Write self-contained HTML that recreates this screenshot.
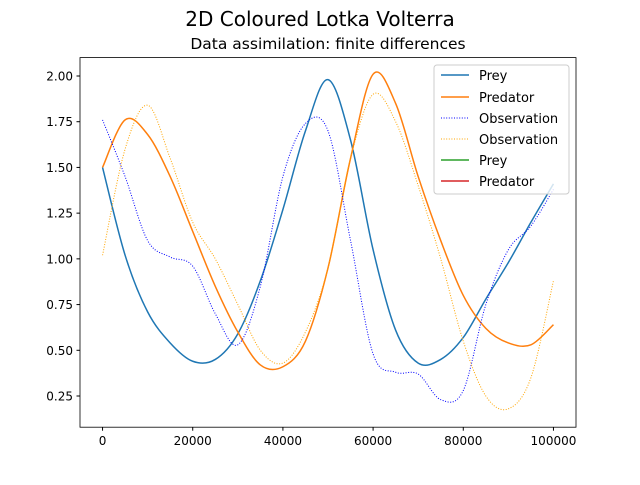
<!DOCTYPE html>
<html><head><meta charset="utf-8"><style>
body{margin:0;background:#fff;font-family:"Liberation Sans","DejaVu Sans",sans-serif}
</style></head><body>
<svg id="c" width="640" height="480" xmlns="http://www.w3.org/2000/svg" font-family="DejaVu Sans, Liberation Sans, sans-serif">
<rect width="640" height="480" fill="#fff"/>
<text x="320" y="26" text-anchor="middle" font-size="20">2D Coloured Lotka Volterra</text>
<text x="328" y="49" text-anchor="middle" font-size="15.5">Data assimilation: finite differences</text>
<g id="marks"></g>
<rect x="80" y="57.6" width="496" height="369.6" fill="none" stroke="#000" stroke-width="0.8"/>
<g id="axes" font-size="12"></g>
<g>
<rect x="434" y="65" width="135" height="129" rx="3" fill="#fff" fill-opacity="0.8" stroke="#ccc"/>
<g font-size="13">
<line x1="441" y1="75" x2="469" y2="75" stroke="#1f77b4" stroke-width="1.5"/><text x="479" y="80">Prey</text>
<line x1="441" y1="97" x2="469" y2="97" stroke="#ff7f0e" stroke-width="1.5"/><text x="479" y="102">Predator</text>
<line x1="441" y1="118" x2="469" y2="118" stroke="#0000ff" stroke-width="1" stroke-dasharray="1,1.6"/><text x="479" y="123">Observation</text>
<line x1="441" y1="139" x2="469" y2="139" stroke="#ffa500" stroke-width="1" stroke-dasharray="1,1.6"/><text x="479" y="144">Observation</text>
<line x1="441" y1="160" x2="469" y2="160" stroke="#2ca02c" stroke-width="1.5"/><text x="479" y="165">Prey</text>
<line x1="441" y1="181" x2="469" y2="181" stroke="#d62728" stroke-width="1.5"/><text x="479" y="186">Predator</text>
</g></g>
</svg>
<script>
const times=[0,5000,10000,15000,20000,25000,30000,35000,40000,45000,50000,55000,60000,65000,70000,75000,80000,85000,90000,95000,100000];
const prey=[1.50,1.02,0.71,0.54,0.44,0.45,0.59,0.88,1.27,1.70,1.98,1.65,1.05,0.61,0.43,0.45,0.57,0.78,0.98,1.20,1.41];
const predator=[1.50,1.76,1.68,1.45,1.15,0.85,0.60,0.42,0.41,0.55,0.95,1.55,2.01,1.85,1.45,1.10,0.80,0.62,0.54,0.53,0.64];
const obsPrey=[1.76,1.45,1.10,1.01,0.96,0.70,0.53,0.85,1.45,1.74,1.70,1.10,0.48,0.38,0.37,0.23,0.28,0.75,1.05,1.18,1.38];
const obsPred=[1.02,1.60,1.84,1.55,1.20,1.00,0.75,0.50,0.43,0.60,0.95,1.55,1.90,1.75,1.40,1.00,0.55,0.25,0.18,0.35,0.88];
const xTicks=[0,20000,40000,60000,80000,100000];
const yTicks=[0.25,0.50,0.75,1.00,1.25,1.50,1.75,2.00];
const NS="http://www.w3.org/2000/svg";
const X=v=>80+(v+5000)/110000*496;
const Y=v=>57.6+(2.1006-v)/(2.1006-0.0794)*369.6;
function path(ys){
 const p=times.map((t,i)=>[X(t),Y(ys[i])]);
 let d=`M${p[0][0]},${p[0][1]}`;
 for(let i=0;i<p.length-1;i++){
  const p0=p[Math.max(0,i-1)],p1=p[i],p2=p[i+1],p3=p[Math.min(p.length-1,i+2)];
  d+=` C${p1[0]+(p2[0]-p0[0])/6},${p1[1]+(p2[1]-p0[1])/6} ${p2[0]-(p3[0]-p1[0])/6},${p2[1]-(p3[1]-p1[1])/6} ${p2[0]},${p2[1]}`;
 }
 return d;
}
const g=document.getElementById('marks');
function add(ys,col,w,dash,name){
 const el=document.createElementNS(NS,'path');
 el.setAttribute('d',path(ys));el.setAttribute('fill','none');el.setAttribute('stroke',col);el.setAttribute('stroke-width',w);
 if(dash)el.setAttribute('stroke-dasharray',dash);
 
 
 g.appendChild(el);
}
add(prey,'#1f77b4',1.5,null,'prey-line');
add(predator,'#ff7f0e',1.5,null,'predator-line');
add(obsPrey,'#0000ff',1,'1,1.6','observation-prey-line');
add(obsPred,'#ffa500',1,'1,1.6','observation-predator-line');
const a=document.getElementById('axes');
xTicks.forEach(t=>{
 const l=document.createElementNS(NS,'line');l.setAttribute('x1',X(t));l.setAttribute('x2',X(t));l.setAttribute('y1',427.2);l.setAttribute('y2',430.7);l.setAttribute('stroke','#000');a.appendChild(l);
 const tx=document.createElementNS(NS,'text');tx.setAttribute('x',X(t));tx.setAttribute('y',445);tx.setAttribute('text-anchor','middle');tx.textContent=t;
 
 
 a.appendChild(tx);
});
yTicks.forEach(t=>{
 const l=document.createElementNS(NS,'line');l.setAttribute('x1',76.5);l.setAttribute('x2',80);l.setAttribute('y1',Y(t));l.setAttribute('y2',Y(t));l.setAttribute('stroke','#000');a.appendChild(l);
 const tx=document.createElementNS(NS,'text');tx.setAttribute('x',73);tx.setAttribute('y',Y(t)+4.5);tx.setAttribute('text-anchor','end');tx.textContent=t.toFixed(2);
 
 
 a.appendChild(tx);
});
</script>
</body></html>
